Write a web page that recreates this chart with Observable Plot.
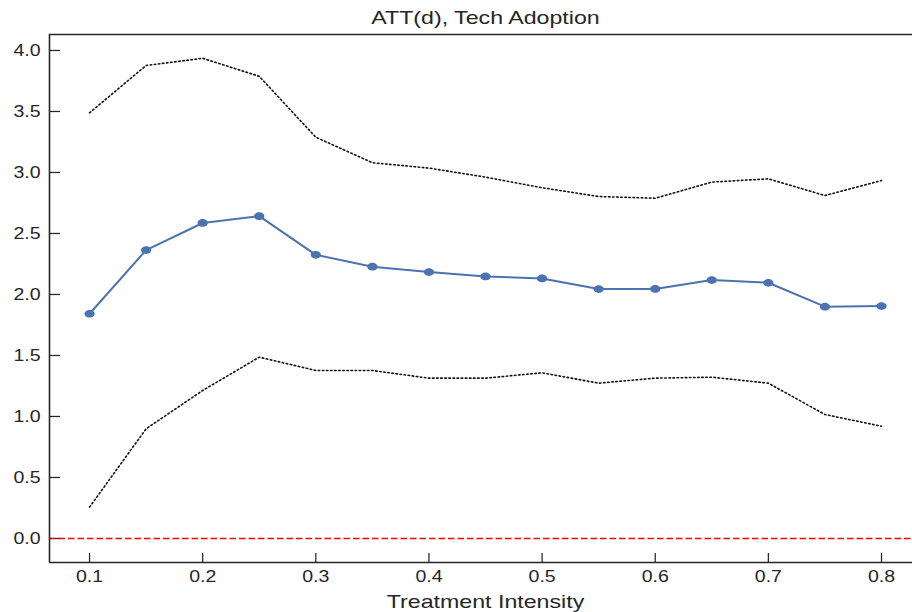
<!DOCTYPE html>
<html>
<head>
<meta charset="utf-8">
<script src="https://cdn.jsdelivr.net/npm/d3@7"></script>
<script src="https://cdn.jsdelivr.net/npm/@observablehq/plot@0.6"></script>
<style>
  html, body { margin: 0; padding: 0; background: white; }
</style>
</head>
<body>
<div id="chart"></div>
<script>
const intensity = [0.1, 0.15, 0.2, 0.25, 0.3, 0.35, 0.4, 0.45, 0.5, 0.55, 0.6, 0.65, 0.7, 0.75, 0.8];
const att   = [1.842, 2.364, 2.586, 2.642, 2.325, 2.228, 2.184, 2.148, 2.131, 2.044, 2.045, 2.118, 2.096, 1.900, 1.905];
const upper = [3.489, 3.877, 3.936, 3.788, 3.289, 3.080, 3.036, 2.962, 2.875, 2.803, 2.789, 2.921, 2.948, 2.811, 2.934];
const lower = [0.257, 0.899, 1.213, 1.486, 1.377, 1.377, 1.314, 1.314, 1.358, 1.273, 1.314, 1.322, 1.273, 1.016, 0.920];
const xTicks = [0.1, 0.2, 0.3, 0.4, 0.5, 0.6, 0.7, 0.8];
const yTicks = [0, 0.5, 1.0, 1.5, 2.0, 2.5, 3.0, 3.5, 4.0];
const xDomain = [0.0646, 0.8274];
const yDomain = [-0.197, 4.131];
const title = "ATT(d), Tech Adoption";
const xLabel = "Treatment Intensity";

const rows = intensity.map((d, i) => ({d, att: att[i], upper: upper[i], lower: lower[i]}));

// slightly wide ellipse marker (reference is horizontally stretched)
const ellipse = {
  draw(context, size) {
    const r = Math.sqrt(size / Math.PI);
    const rx = r * 1.16, ry = r * 0.88, k = 0.5523;
    context.moveTo(rx, 0);
    context.bezierCurveTo(rx, ry * k, rx * k, ry, 0, ry);
    context.bezierCurveTo(-rx * k, ry, -rx, ry * k, -rx, 0);
    context.bezierCurveTo(-rx, -ry * k, -rx * k, -ry, 0, -ry);
    context.bezierCurveTo(rx * k, -ry, rx, -ry * k, rx, 0);
    context.closePath();
  }
};

const ink = "#262626";
const chart = Plot.plot({
  width: 912,
  height: 612,
  marginTop: 34,
  marginBottom: 50,
  marginLeft: 49,
  marginRight: 0,
  style: {fontFamily: "'Liberation Sans', Arial, sans-serif", fontSize: "16px", color: ink, background: "white", overflow: "visible"},
  x: {domain: xDomain, label: null},
  y: {domain: yDomain, label: null},
  marks: [
    Plot.line(rows, {x: "d", y: "upper", stroke: "#111", strokeWidth: 1.6, strokeDasharray: "1.5,2.6"}),
    Plot.line(rows, {x: "d", y: "lower", stroke: "#111", strokeWidth: 1.6, strokeDasharray: "1.5,2.6"}),
    Plot.line(rows, {x: "d", y: "att", stroke: "#4c72b0", strokeWidth: 2}),
    Plot.dot(rows, {x: "d", y: "att", fill: "#4c72b0", stroke: "none", r: 4.4, symbol: ellipse}),
    // inward ticks: outward tick shifted inside by its own length
    Plot.axisY(yTicks, {tickSize: 11, dx: 11, tickFormat: () => "", stroke: ink, strokeWidth: 1.25, label: null}),
    Plot.axisY(yTicks, {tickSize: 0, tickPadding: 9, tickFormat: d3.format(".1f"), label: null, fill: ink}),
    Plot.axisX(xTicks, {tickSize: 9, dy: -9, tickFormat: () => "", stroke: ink, strokeWidth: 1.25, label: null}),
    Plot.axisX(xTicks, {tickSize: 0, tickPadding: 8, tickFormat: d3.format(".1f"), label: null, fill: ink}),
    Plot.ruleY([0], {stroke: "#ff0000", strokeWidth: 1.6, strokeDasharray: "6.5,3"}),
    Plot.ruleX([xDomain[0]], {stroke: ink, strokeWidth: 1.6}),
    Plot.ruleY([yDomain[0], yDomain[1]], {stroke: ink, strokeWidth: 1.6}),
    Plot.text([title], {frameAnchor: "top", lineAnchor: "middle", dy: -17, dx: 4.5, fontSize: 19, fill: ink}),
    Plot.text([xLabel], {frameAnchor: "bottom", lineAnchor: "middle", dy: 39, dx: 4.5, fontSize: 19, fill: ink})
  ]
});
document.getElementById("chart").append(chart);

// reference text is horizontally stretched by about 22%
chart.querySelectorAll("text").forEach(t => {
  const L = t.getComputedTextLength();
  if (L > 0) {
    t.setAttribute("textLength", (L * 1.22).toFixed(2));
    t.setAttribute("lengthAdjust", "spacingAndGlyphs");
  }
});
</script>
</body>
</html>
